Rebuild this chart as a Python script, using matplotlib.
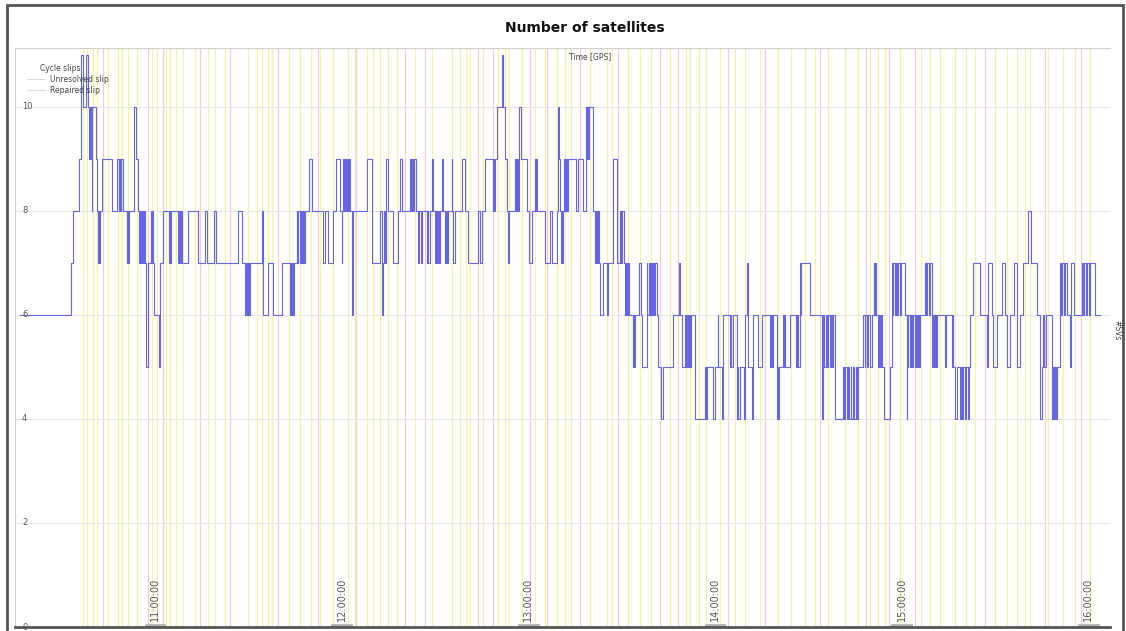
import matplotlib
matplotlib.use("Agg")
from matplotlib import pyplot as plt
from matplotlib.patches import Rectangle
from matplotlib.transforms import blended_transform_factory

# epoch times in minutes after 10:00 GPS, and satellite count from that epoch on
sv_time = [
    16.6, 33.0, 33.5, 35.7, 36.1, 36.8, 37.8, 38.5, 38.8, 39.0, 39.2, 39.4, 39.6, 39.75,
    41.0, 41.4, 41.7, 41.9, 42.1, 42.3, 42.9, 46.1, 47.9, 48.4, 48.65, 49.0, 49.2, 49.8,
    50.9, 51.1, 51.3, 51.6, 53.2, 53.9, 54.6, 55.0, 55.2, 55.5, 55.8, 56.1, 56.5, 56.8,
    57.1, 57.9, 58.7, 58.9, 59.1, 59.4, 59.7, 61.3, 61.6, 62.7, 64.6, 64.8, 64.9, 65.1,
    67.5, 67.7, 68.0, 68.4, 68.6, 70.7, 73.9, 76.1, 76.6, 79.0, 79.5, 86.8, 87.9, 88.9,
    89.3, 89.6, 89.9, 90.2, 90.5, 94.3, 94.8, 96.3, 97.8, 100.7, 103.4, 103.6, 103.8,
    104.05, 104.5, 104.7, 105.6, 105.8, 106.1, 106.5, 106.8, 107.3, 107.6, 107.9, 108.2,
    109.6, 110.4, 114.1, 114.7, 115.7, 117.3, 118.2, 119.5, 120.0, 120.2, 120.4, 120.7,
    120.9, 121.1, 121.3, 121.6, 121.8, 122.05, 122.4, 122.7, 123.2, 123.8, 128.1, 129.7,
    132.3, 132.9, 133.4, 133.6, 133.95, 134.3, 135.0, 136.6, 138.2, 138.8, 139.3, 142.0,
    142.3, 142.6, 142.9, 143.3, 143.8, 144.7, 144.9, 145.4, 145.7, 147.4, 147.6, 147.9,
    148.4, 149.0, 149.5, 150.0, 150.3, 150.7, 151.0, 151.3, 151.6, 152.2, 152.7, 153.2,
    153.6, 153.9, 154.3, 155.4, 155.6, 155.8, 156.5, 158.6, 159.7, 160.7, 163.9, 164.5,
    165.1, 166.1, 168.6, 168.8, 169.0, 169.3, 170.1, 171.5, 172.0, 172.5, 173.1, 173.4,
    173.9, 175.7, 176.1, 176.4, 176.7, 177.1, 177.6, 179.5, 180.3, 181.1, 182.2, 182.3,
    182.5, 182.9, 185.4, 187.0, 187.5, 189.3, 189.7, 190.0, 190.2, 190.4, 190.7, 190.9,
    191.2, 191.5, 191.8, 192.1, 192.5, 192.8, 195.4, 196.1, 197.7, 198.6, 198.9, 199.1,
    199.4, 199.6, 200.7, 200.9, 201.5, 201.8, 202.1, 202.4, 202.8, 203.1, 204.1, 205.2,
    205.7, 207.2, 208.4, 209.5, 209.8, 210.1, 210.8, 211.1, 211.4, 211.75, 212.1, 212.4,
    213.6, 213.8, 214.1, 214.3, 215.7, 216.2, 216.6, 218.1, 218.3, 218.7, 219.0, 219.3,
    219.8, 220.1, 220.4, 220.7, 221.3, 221.7, 222.8, 223.2, 226.6, 228.6, 228.8, 229.3,
    230.4, 230.7, 231.0, 231.4, 231.7, 232.0, 232.3, 233.6, 236.8, 237.2, 237.5, 239.5,
    240.0, 240.9, 241.1, 242.2, 242.7, 244.9, 245.1, 245.3, 245.7, 247.0, 247.3, 247.5,
    248.1, 249.2, 249.7, 250.4, 250.6, 250.7, 251.8, 252.1, 252.3, 254.0, 255.1, 257.7,
    258.1, 258.4, 258.6, 260.1, 260.3, 260.5, 260.7, 262.0, 262.2, 262.4, 262.5, 264.2,
    266.1, 266.4, 266.7, 267.4, 267.6, 267.8, 270.6, 274.3, 274.9, 275.2, 275.6, 276.0,
    276.4, 276.9, 277.2, 277.7, 278.1, 278.6, 281.3, 281.6, 281.9, 282.4, 282.8, 283.1,
    283.6, 283.9, 284.4, 284.7, 285.4, 285.7, 286.1, 287.7, 288.1, 288.4, 288.9, 289.2,
    289.9, 290.4, 291.0, 291.2, 291.4, 291.8, 292.3, 292.6, 293.1, 293.4, 293.6, 294.2,
    296.3, 296.9, 297.1, 297.4, 297.8, 298.1, 298.6, 298.9, 299.5, 299.8, 301.1, 301.7,
    301.9, 302.2, 302.6, 302.9, 303.4, 303.8, 304.2, 304.5, 305.0, 305.3, 305.6, 305.9,
    307.6, 307.9, 308.2, 308.7, 309.0, 309.7, 310.0, 310.3, 310.8, 311.0, 311.3, 314.0,
    314.2, 316.1, 316.4, 316.6, 317.2, 317.7, 318.8, 319.1, 319.5, 319.9, 320.4, 320.7,
    321.2, 321.6, 322.0, 322.9, 325.2, 327.4, 327.9, 329.0, 329.5, 330.6, 332.2, 333.3,
    333.8, 334.9, 336.0, 337.0, 338.1, 339.0, 340.8, 341.5, 343.5, 344.5, 345.1, 345.5,
    345.8, 346.3, 348.3, 348.6, 348.9, 349.3, 349.7, 349.9, 351.0, 351.3, 351.6, 352.1,
    352.4, 353.1, 354.2, 354.4, 355.3, 357.9, 358.4, 358.7, 359.3, 359.7, 360.3, 360.6,
    362.2, 363.8,
]
sv_count = [
    6, 7, 8, 9, 11, 10, 11, 10, 9, 10, 9, 10, 8, 10,
    9, 8, 7, 8, 7, 8, 9, 8, 9, 8, 9, 8, 9, 8,
    7, 8, 7, 8, 10, 9, 8, 7, 8, 7, 8, 7, 8, 7,
    5, 7, 8, 7, 8, 7, 6, 5, 7, 8, 7, 8, 7, 8,
    7, 8, 7, 8, 7, 8, 7, 8, 7, 8, 7, 8, 7, 6,
    7, 6, 7, 6, 7, 8, 6, 7, 6, 7, 6, 7, 6,
    7, 6, 7, 8, 7, 8, 7, 8, 7, 8, 7, 8,
    9, 8, 7, 8, 7, 8, 9, 8, 7, 8, 9, 8,
    9, 8, 9, 8, 9, 8, 9, 8, 6, 8, 9, 7,
    8, 6, 7, 8, 7, 9, 8, 7, 8, 9, 8, 9,
    8, 9, 8, 9, 8, 7, 8, 7, 8, 7, 8, 7,
    8, 9, 8, 7, 8, 7, 8, 7, 8, 9, 8, 7,
    8, 7, 8, 9, 8, 7, 8, 9, 8, 7, 8, 7,
    8, 9, 8, 9, 8, 9, 10, 11, 10, 9, 8, 7,
    8, 9, 8, 9, 8, 10, 9, 8, 7, 8, 9, 8,
    9, 8, 7, 8, 7, 8, 10, 9, 8, 7, 8, 7,
    8, 9, 8, 9, 8, 9, 8, 9, 8, 10, 9, 10,
    9, 10, 9, 8, 7, 8, 7, 8, 7, 6, 7, 6,
    7, 9, 7, 8, 7, 8, 7, 6, 7, 6, 7, 6,
    5, 6, 5, 6, 7, 6, 5, 7, 6, 7, 6, 7,
    6, 7, 6, 7, 6, 5, 4, 5, 6, 7, 6, 5,
    6, 5, 6, 5, 6, 5, 6, 4, 5, 4, 5, 4,
    5, 6, 5, 4, 6, 5, 6, 5, 6, 4, 5, 4,
    5, 4, 6, 7, 6, 5, 4, 5, 6, 5, 6, 5,
    6, 5, 6, 4, 5, 4, 5, 6, 5, 6, 5, 6,
    5, 6, 5, 7, 6, 7, 6, 4, 6, 5, 6, 5,
    6, 5, 6, 5, 6, 4, 5, 4, 5, 4, 5, 4,
    5, 4, 5, 4, 5, 4, 5, 6, 5, 6, 5, 6,
    5, 6, 7, 6, 7, 6, 5, 6, 5, 6, 5, 4,
    5, 7, 6, 7, 6, 7, 6, 7, 6, 7, 6, 4,
    5, 6, 5, 6, 5, 6, 5, 6, 5, 6, 5, 6,
    7, 6, 7, 6, 7, 5, 6, 5, 6, 5, 6, 5,
    6, 5, 6, 5, 4, 5, 4, 5, 4, 5, 4, 5,
    4, 5, 6, 7, 6, 5, 7, 6, 5, 6, 7, 6,
    5, 6, 7, 5, 6, 7, 8, 7, 6, 4, 5, 6,
    5, 6, 4, 5, 4, 5, 4, 5, 7, 6, 7, 6,
    7, 6, 5, 7, 6, 7, 6, 7, 6, 7, 6, 7,
    6, 6,
]

# cycle slip epochs (minutes after 10:00)
repaired_slips = [
    36.9, 38.1, 40.1, 41.4, 44.9, 48.1, 49.4, 51.3, 54.2, 59.0, 60.6, 63.5, 64.8, 66.8,
    69.0, 72.9, 77.0, 79.3, 82.5, 89.9, 92.8, 94.4, 96.3, 97.6, 103.1, 106.6, 110.2,
    113.1, 117.2, 122.1, 124.3, 128.2, 130.1, 132.3, 134.9, 137.8, 143.6, 149.1, 155.5,
    158.1, 160.0, 161.3, 165.5, 170.3, 172.5, 173.8, 178.0, 182.2, 185.4, 189.2, 191.8,
    193.7, 199.9, 205.3, 206.9, 212.1, 215.9, 219.5, 225.6, 230.7, 232.0, 234.9, 237.2,
    241.7, 246.5, 249.7, 254.5, 260.3, 264.5, 269.0, 272.2, 276.4, 281.8, 286.0, 289.9,
    292.5, 294.7, 299.5, 306.3, 309.2, 312.4, 317.2, 320.7, 323.6, 330.1, 333.9, 337.1,
    339.7, 341.3, 347.1, 351.9, 355.8, 360.6,
]
unresolved_slips = [
    43.3, 57.8, 62.6, 74.5, 84.1, 99.5, 112.4, 124.6, 140.4, 146.8, 163.9, 168.7, 180.6,
    186.0, 196.6, 208.9, 222.4, 228.2, 244.2, 256.1, 273.8, 288.6, 296.0, 304.3, 326.8,
    346.1, 357.7,
]

hour_ticks = [60, 120, 180, 240, 300, 360]
hour_labels = ["11:00:00", "12:00:00", "13:00:00", "14:00:00", "15:00:00", "16:00:00"]
sv_ticks = [0, 2, 4, 6, 8, 10]

W, H = 1126, 631
fig = plt.figure(figsize=(W / 100, H / 100), dpi=100)
fig.patch.set_facecolor("white")

# window frame
fig.patches.append(Rectangle((7 / W, -0.01), (1123 - 7) / W, 1 - 5 / H + 0.01,
                             transform=fig.transFigure, fill=False,
                             edgecolor="#555555", lw=2))

ax = fig.add_axes([15 / W, 4 / H, (1110 - 15) / W, (627 - 48) / H])
ax.set_xlim(15.0, 367.0)
ax.set_ylim(0, 11.13)

for t in repaired_slips:
    ax.axvline(t, color="#f3f3a4", lw=0.9, zorder=1)
for t in unresolved_slips:
    ax.axvline(t, color="#f2ccd4", lw=0.9, zorder=1)

for v in sv_ticks[1:]:
    ax.axhline(v, color="#e8e8e8", lw=0.8, zorder=1)

ax.step(sv_time, sv_count, where="post", color="#6666e4", lw=0.8, zorder=3)

ax.set_xticks([])
ax.set_yticks([])
for side in ["left", "top"]:
    ax.spines[side].set_color("#d0d0d0")
    ax.spines[side].set_linewidth(0.8)
ax.spines["right"].set_visible(False)
ax.spines["bottom"].set_color("#555555")
ax.spines["bottom"].set_linewidth(2)

# tick labels drawn inside the plot area
xtrans = blended_transform_factory(ax.transData, ax.transAxes)
for t, lab in zip(hour_ticks, hour_labels):
    ax.text(t, 0.01, lab, transform=xtrans, rotation=90, ha="center", va="bottom",
            fontsize=7, color="#555555")
    ax.plot([t - 3, t + 3], [0.003, 0.003], transform=xtrans, color="#b0b0b0", lw=2,
            clip_on=False)
ytrans = blended_transform_factory(ax.transAxes, ax.transData)
for v in sv_ticks:
    ax.text(0.0065, v, str(v), transform=ytrans, ha="left", va="center",
            fontsize=6, color="#555555")

# legend
ax.text(0.023, 0.965, "Cycle slips", transform=ax.transAxes, fontsize=5.5, color="#444444",
        va="center")
ax.plot([0.011, 0.027], [0.946, 0.946], transform=ax.transAxes, color="#dddddd", lw=0.8)
ax.text(0.032, 0.946, "Unresolved slip", transform=ax.transAxes, fontsize=5.5,
        color="#444444", va="center")
ax.plot([0.011, 0.027], [0.927, 0.927], transform=ax.transAxes, color="#dddddd", lw=0.8)
ax.text(0.032, 0.927, "Repaired slip", transform=ax.transAxes, fontsize=5.5,
        color="#444444", va="center")

fig.text(585 / W, 1 - 28 / H, "Number of satellites", ha="center", va="center",
         fontsize=10, fontweight="bold", color="#111111")
fig.text(590 / W, 1 - 57 / H, "Time [GPS]", ha="center", va="center", fontsize=5.5,
         color="#444444")
fig.text(1117 / W, 1 - 330 / H, "#SVs", ha="center", va="center", fontsize=5.5,
         rotation=270, color="#444444")

fig.savefig("out.png", dpi=100)
